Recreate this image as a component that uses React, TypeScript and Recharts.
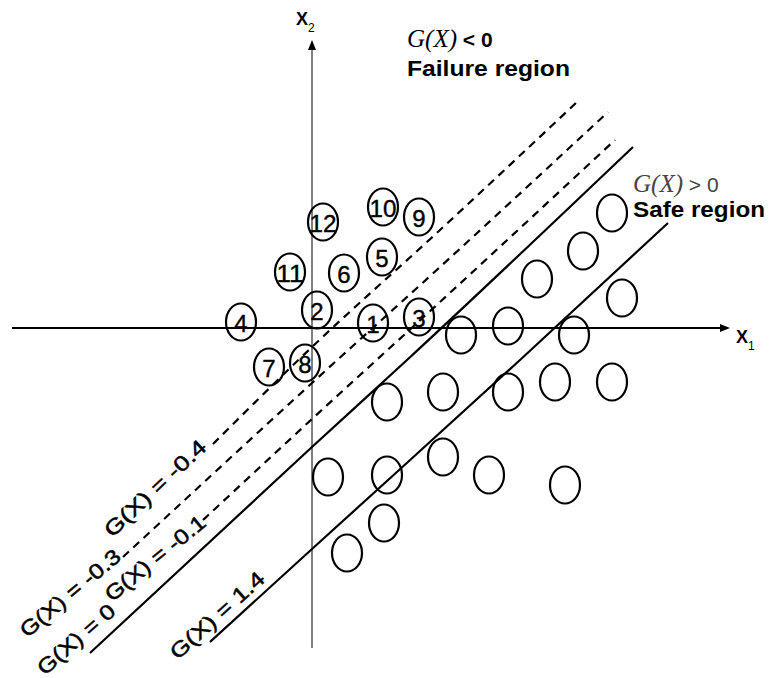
import React from "react"
import { ComposedChart, XAxis, YAxis, Line, Scatter, ReferenceLine } from "recharts"

// design space: origin at the axes crossing, x to the right, y upwards
const xDomain = [-312, 458]
const yDomain = [-350, 328]

// samples in the failure region (numbered)
const failureIds = ["1", "2", "3", "4", "5", "6", "7", "8", "9", "10", "11", "12"]
const failureX = [61, 5, 107, -71, 70, 32, -43, -7, 107, 71, -22, 11]
const failureY = [5, 18, 11, 6, 71, 55, -39, -35, 111, 121, 56, 106]

// samples in the safe region
const safeX = [300, 271, 225, 310, 149, 196, 262, 75, 131, 196, 243, 300, 16, 75, 131, 177, 253, 72, 35]
const safeY = [115, 77, 49, 30, -7, 2, -7, -74, -64, -64, -54, -54, -149, -147, -129, -147, -157, -195, -225]

// limit state curves G(X) = c
const curveM04 = [[-99, -116], [0, -19], [128, 98], [265, 226]]
const curveM03 = [[-189, -229], [0, -55], [128, 61], [296, 216]]
const curveM01 = [[-109, -192], [0, -91], [128, 26], [303, 188]]
const curve0 = [[-222, -325], [0, -119], [95, -32], [321, 181]]
const curve14 = [[-102, -314], [0, -221], [208, -32], [356, 105]]

const curveLabels = ["G(X) = -0.4", "G(X) = -0.3", "G(X) = -0.1", "G(X) = 0", "G(X) = 1.4"]
const curveLabelX = [-157, -242, -157, -236, -95]
const curveLabelY = [-160, -265, -230, -311, -287]
const curveLabelAngle = [-43, -40, -39, -41, -42]
const curveLabelLen = [131, 124, 123, 96, 119]

const toPts = (arr: number[][]) => arr.map(([x, y]) => ({ x, y }))

const failureData = failureIds.map((id, i) => ({ id, x: failureX[i], y: failureY[i] }))
const safeData = safeX.map((x, i) => ({ x, y: safeY[i] }))
const curveLabelData = curveLabels.map((text, i) => ({
  text,
  x: curveLabelX[i],
  y: curveLabelY[i],
  angle: curveLabelAngle[i],
  len: curveLabelLen[i],
}))

const arrowData = [
  { x: 418, y: 0, dir: "right" },
  { x: 0, y: 288, dir: "up" },
]
const axisTitles = [
  { x: -16, y: 303, main: "X", sub: "2" },
  { x: 424, y: -15, main: "X", sub: "1" },
]
const regionNotes = [
  { x: 95, y: 281, kind: "cond", sign: "<", light: false },
  { x: 95, y: 252, kind: "name", text: "Failure region", len: 163 },
  { x: 321, y: 136, kind: "cond", sign: ">", light: true },
  { x: 321, y: 111, kind: "name", text: "Safe region", len: 132 },
]

const SANS = "'Liberation Sans', Arial, sans-serif"
const SERIF = "'Liberation Serif', 'Times New Roman', serif"

const Ring = (props: any) => {
  const { cx, cy, payload } = props
  const id = payload?.id
  return (
    <g>
      <ellipse cx={cx} cy={cy} rx={15} ry={18.5} fill="none" stroke="#000" strokeWidth={2.2} />
      {id && (
        <text
          x={cx}
          y={cy + 1}
          textAnchor="middle"
          dominantBaseline="central"
          fontFamily={SANS}
          fontSize={24}
          fill="#000"
          stroke="#000"
          strokeWidth={0.4}
          {...(id.length > 1 ? { textLength: 27, lengthAdjust: "spacingAndGlyphs" } : {})}
        >
          {id}
        </text>
      )}
    </g>
  )
}

const CurveLabel = (props: any) => {
  const { cx, cy, payload } = props
  return (
    <text
      x={cx}
      y={cy}
      textAnchor="middle"
      dominantBaseline="central"
      fontFamily={SANS}
      fontSize={21}
      fill="#000"
      stroke="#000"
      strokeWidth={0.5}
      textLength={payload.len}
      lengthAdjust="spacingAndGlyphs"
      transform={`rotate(${payload.angle} ${cx} ${cy})`}
    >
      {payload.text}
    </text>
  )
}

const Arrow = (props: any) => {
  const { cx, cy, payload } = props
  const pts =
    payload.dir === "right"
      ? `${cx},${cy} ${cx - 10},${cy - 4} ${cx - 10},${cy + 4}`
      : `${cx},${cy} ${cx - 4},${cy + 10} ${cx + 4},${cy + 10}`
  return <polygon points={pts} fill="#000" />
}

const AxisTitle = (props: any) => {
  const { cx, cy, payload } = props
  return (
    <text x={cx} y={cy} fontFamily={SANS} fontWeight="bold" fontSize={18} fill="#000">
      {payload.main}
      <tspan fontSize={12} fontWeight="normal" dy={7}>
        {payload.sub}
      </tspan>
    </text>
  )
}

const RegionNote = (props: any) => {
  const { cx, cy, payload } = props
  if (payload.kind === "cond") {
    const col = payload.light ? "#444" : "#000"
    return (
      <text x={cx} y={cy} fill={col}>
        <tspan fontFamily={SERIF} fontStyle="italic" fontSize={25}>
          G(X)
        </tspan>
        <tspan fontFamily={SANS} fontWeight={payload.light ? "normal" : "bold"} fontSize={21}>
          {` ${payload.sign} 0`}
        </tspan>
      </text>
    )
  }
  return (
    <text
      x={cx}
      y={cy}
      fontFamily={SANS}
      fontWeight="bold"
      fontSize={22}
      fill="#000"
      textLength={payload.len}
      lengthAdjust="spacingAndGlyphs"
    >
      {payload.text}
    </text>
  )
}

export default function App() {
  return (
    <div style={{ position: "absolute", left: 0, top: 0, background: "#fff" }}>
      <ComposedChart width={770} height={678} margin={{ top: 0, right: 0, bottom: 0, left: 0 }}>
        <XAxis type="number" dataKey="x" domain={xDomain} allowDataOverflow hide />
        <YAxis type="number" dataKey="y" domain={yDomain} allowDataOverflow hide />

        <ReferenceLine
          segment={[{ x: -300, y: 0 }, { x: 410, y: 0 }]}
          stroke="#000"
          strokeWidth={2}
        />
        <ReferenceLine
          segment={[{ x: 0, y: -320 }, { x: 0, y: 280 }]}
          stroke="#000"
          strokeWidth={1}
        />

        <Line data={toPts(curveM04)} dataKey="y" type="monotone" stroke="#000" strokeWidth={2.2} strokeDasharray="8 6" dot={false} isAnimationActive={false} />
        <Line data={toPts(curveM03)} dataKey="y" type="monotone" stroke="#000" strokeWidth={2.2} strokeDasharray="8 6" dot={false} isAnimationActive={false} />
        <Line data={toPts(curveM01)} dataKey="y" type="monotone" stroke="#000" strokeWidth={2.2} strokeDasharray="8 6" dot={false} isAnimationActive={false} />
        <Line data={toPts(curve0)} dataKey="y" type="monotone" stroke="#000" strokeWidth={2.2} dot={false} isAnimationActive={false} />
        <Line data={toPts(curve14)} dataKey="y" type="monotone" stroke="#000" strokeWidth={2.2} dot={false} isAnimationActive={false} />

        <Scatter data={safeData} shape={Ring} isAnimationActive={false} />
        <Scatter data={failureData} shape={Ring} isAnimationActive={false} />
        <Scatter data={curveLabelData} shape={CurveLabel} isAnimationActive={false} />
        <Scatter data={arrowData} shape={Arrow} isAnimationActive={false} />
        <Scatter data={axisTitles} shape={AxisTitle} isAnimationActive={false} />
        <Scatter data={regionNotes} shape={RegionNote} isAnimationActive={false} />
      </ComposedChart>
    </div>
  )
}
